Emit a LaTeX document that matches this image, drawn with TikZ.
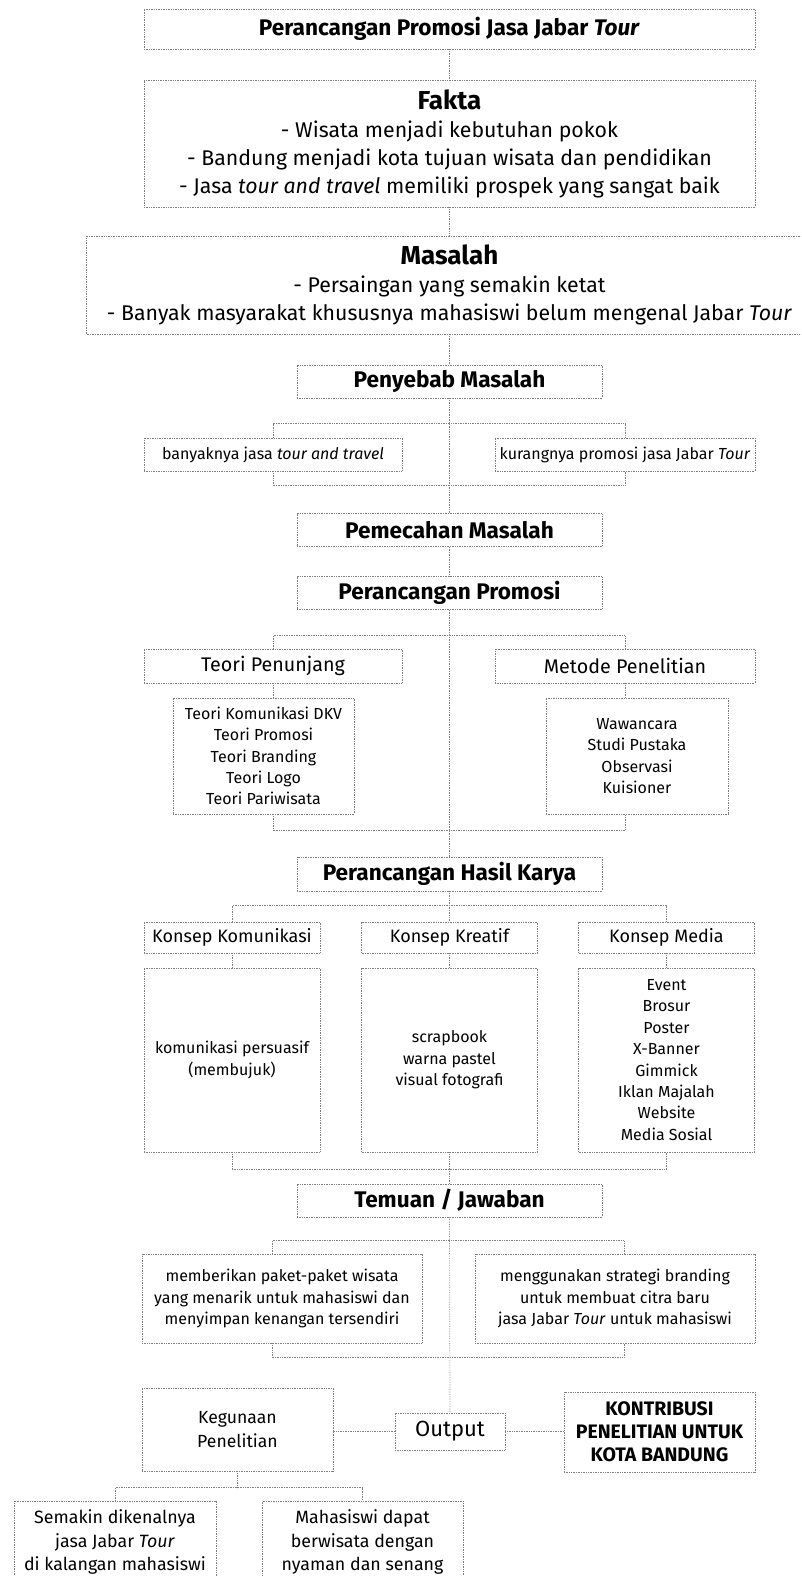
\documentclass[tikz,border=0pt]{standalone}
\usepackage{fontspec}
\setmainfont{Fira Sans}
\usepackage{tikz}

\begin{document}
\begin{tikzpicture}[x=1pt,y=-1pt,
    kotak/.style={draw=gray,densely dotted,line width=0.7pt,inner sep=0pt,align=center},
    garis/.style={draw=gray,densely dotted,line width=0.7pt},
    judulbesar/.style={font=\bfseries\fontsize{22.6}{24}\selectfont},
    isikecil/.style={font=\fontsize{16}{21.4}\selectfont}]
    \clip (0,0) rectangle (801,1576);
    \node [kotak,judulbesar,minimum width=611,minimum height=40] (judul) at (449.5,29) {Perancangan Promosi Jasa Jabar \textit{Tour}};
    \node [kotak,minimum width=611,minimum height=127,font=\fontsize{21.3}{28}\selectfont] (fakta) at (449.5,143.5)
        {{\bfseries\fontsize{26}{28}\selectfont Fakta}\\- Wisata menjadi kebutuhan pokok\\- Bandung menjadi kota tujuan wisata dan pendidikan\\- Jasa \textit{tour and travel} memiliki prospek yang sangat baik};
    \node [kotak,minimum width=726,minimum height=98,font=\fontsize{21.3}{28}\selectfont] (masalah) at (449.5,285)
        {{\bfseries\fontsize{26}{28}\selectfont Masalah}\\- Persaingan yang semakin ketat\\- Banyak masyarakat khususnya mahasiswi belum mengenal Jabar \textit{Tour}};
    \node [kotak,judulbesar,minimum width=305,minimum height=33] (penyebab) at (449.5,381.5) {Penyebab Masalah};
    \node [kotak,isikecil,minimum width=258,minimum height=33] (banyak) at (273,454.5) {banyaknya jasa \textit{tour and travel}};
    \node [kotak,isikecil,minimum width=260,minimum height=33] (kurang) at (625,454.5) {kurangnya promosi jasa Jabar \textit{Tour}};
    \node [kotak,judulbesar,minimum width=305,minimum height=33] (pemecahan) at (449.5,530) {Pemecahan Masalah};
    \node [kotak,judulbesar,minimum width=305,minimum height=33] (rancang) at (449.5,593) {Perancangan Promosi};
    \node [kotak,minimum width=258,minimum height=34,font=\fontsize{19.7}{22}\selectfont] (teori) at (273,666) {Teori Penunjang};
    \node [kotak,minimum width=260,minimum height=34,font=\fontsize{19.7}{22}\selectfont] (metode) at (625,666) {Metode Penelitian};
    \node [kotak,isikecil,minimum width=181,minimum height=116] (teorilist) at (263.5,756)
        {Teori Komunikasi DKV\\Teori Promosi\\Teori Branding\\Teori Logo\\Teori Pariwisata};
    \node [kotak,isikecil,minimum width=182,minimum height=116] (metodelist) at (637,756)
        {Wawancara\\Studi Pustaka\\Observasi\\Kuisioner};
    \node [kotak,judulbesar,minimum width=305,minimum height=34] (hasil) at (449.5,874) {Perancangan Hasil Karya};
    \node [kotak,minimum width=176,minimum height=31,font=\fontsize{18}{20}\selectfont] (kkom) at (232,937.5) {Konsep Komunikasi};
    \node [kotak,minimum width=176,minimum height=31,font=\fontsize{18}{20}\selectfont] (kkre) at (449.5,937.5) {Konsep Kreatif};
    \node [kotak,minimum width=176,minimum height=31,font=\fontsize{18}{20}\selectfont] (kmed) at (666.5,937.5) {Konsep Media};
    \node [kotak,isikecil,minimum width=176,minimum height=184] (kkomisi) at (232,1060) {komunikasi persuasif\\(membujuk)};
    \node [kotak,isikecil,minimum width=176,minimum height=184] (kkreisi) at (449.5,1060) {scrapbook\\warna pastel\\visual fotografi};
    \node [kotak,isikecil,minimum width=176,minimum height=184] (kmedisi) at (666.5,1060)
        {Event\\Brosur\\Poster\\X-Banner\\Gimmick\\Iklan Majalah\\Website\\Media Sosial};
    \node [kotak,judulbesar,minimum width=305,minimum height=33] (temuan) at (449.5,1200.5) {Temuan / Jawaban};
    \node [kotak,isikecil,minimum width=280,minimum height=89] (jawab1) at (282,1298.5)
        {memberikan paket-paket wisata\\yang menarik untuk mahasiswi dan\\menyimpan kenangan tersendiri};
    \node [kotak,isikecil,minimum width=280,minimum height=89] (jawab2) at (615,1298.5)
        {menggunakan strategi branding\\untuk membuat citra baru\\jasa Jabar \textit{Tour} untuk mahasiswi};
    \node [kotak,minimum width=191,minimum height=83,font=\fontsize{17.6}{24}\selectfont] (guna) at (237.5,1429.5) {Kegunaan\\Penelitian};
    \node [kotak,minimum width=110,minimum height=37,font=\fontsize{22}{24}\selectfont] (output) at (450,1431.5) {Output};
    \node [kotak,minimum width=191,minimum height=80,font=\bfseries\fontsize{19.5}{23}\selectfont] (kontribusi) at (659.5,1432)
        {KONTRIBUSI\\PENELITIAN UNTUK\\KOTA BANDUNG};
    \node [kotak,minimum width=202,minimum height=82,font=\fontsize{17.8}{23.5}\selectfont] (hasil1) at (115,1542)
        {Semakin dikenalnya\\jasa Jabar \textit{Tour}\\di kalangan mahasiswi};
    \node [kotak,minimum width=201,minimum height=82,font=\fontsize{17.8}{23.5}\selectfont] (hasil2) at (362.5,1542)
        {Mahasiswi dapat\\berwisata dengan\\nyaman dan senang};

    \draw [garis] (judul.south) -- (fakta.north);
    \draw [garis] (fakta.south) -- (masalah.north);
    \draw [garis] (masalah.south) -- (penyebab.north);
    \draw [garis] (penyebab.south) -- (pemecahan.north);
    \draw [garis] (banyak.north) -- ++(0,-14) -| (kurang.north);
    \draw [garis] (banyak.south) -- ++(0,14) -| (kurang.south);
    \draw [garis] (pemecahan.south) -- (rancang.north);
    \draw [garis] (rancang.south) -- (hasil.north);
    \draw [garis] (teori.north) -- ++(0,-13) -| (metode.north);
    \draw [garis] (teori.south) -- (teori.south |- teorilist.north);
    \draw [garis] (metode.south) -- (metode.south |- metodelist.north);
    \draw [garis] (teori.south |- teorilist.south) -- ++(0,16) -| (metode.south |- metodelist.south);
    \draw [garis] (hasil.south) -- (kkre.north);
    \draw [garis] (kkom.north) -- ++(0,-16) -| (kmed.north);
    \draw [garis] (kkom.south) -- (kkomisi.north);
    \draw [garis] (kkre.south) -- (kkreisi.north);
    \draw [garis] (kmed.south) -- (kmedisi.north);
    \draw [garis] (kkomisi.south) -- ++(0,17) -| (kmedisi.south);
    \draw [garis] (kkreisi.south) -- (temuan.north);
    \draw [garis] (temuan.south) -- (output.north);
    \draw [garis] ([xshift=-10]jawab1.north) -- ++(0,-13) -| ([xshift=9]jawab2.north);
    \draw [garis] ([xshift=-10]jawab1.south) -- ++(0,14) -| ([xshift=9]jawab2.south);
    \draw [garis] (output.west) -- (output.west -| guna.east);
    \draw [garis] (output.east) -- (output.east -| kontribusi.west);
    \draw [garis] (guna.south) -- ++(0,17);
    \draw [garis] (hasil1.north) -- ++(0,-13) -| (hasil2.north);
\end{tikzpicture}
\end{document}
